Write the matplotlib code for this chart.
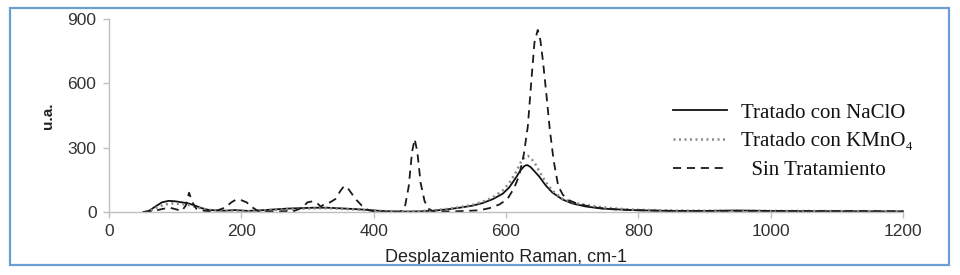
import matplotlib
matplotlib.use("Agg")
import matplotlib.pyplot as plt
from matplotlib.patches import Rectangle

# Raman spectra (x in cm-1, y in u.a.)
naclo_x = [52, 60, 70, 80, 90, 100, 110, 120, 130, 140, 150, 160, 175, 190, 210, 230, 250,
           270, 290, 310, 330, 350, 370, 390, 410, 430, 450, 470, 490, 510, 530, 550, 565,
           580, 595, 605, 615, 622, 628, 632, 637, 643, 650, 660, 670, 685, 700, 720, 745,
           770, 800, 850, 900, 950, 1000, 1050, 1100, 1150, 1200]
naclo_y = [0, 5, 25, 45, 52, 50, 45, 40, 30, 18, 10, 8, 6, 9, 5, 8, 12,
           16, 18, 20, 20, 17, 14, 10, 5, 3, 2, 3, 6, 12, 20, 30, 42,
           60, 85, 115, 160, 195, 215, 219, 210, 190, 166, 124, 91, 59, 40, 26, 16,
           12, 8, 5, 5, 7, 5, 4, 4, 3, 3]

kmno4_x = [55, 65, 75, 85, 95, 105, 115, 125, 135, 150, 170, 190, 210, 230, 250, 270, 290,
           310, 330, 350, 370, 390, 410, 430, 450, 470, 490, 510, 530, 550, 565, 580, 595,
           605, 615, 622, 628, 633, 638, 645, 652, 660, 670, 685, 700, 720, 745, 770, 800,
           850, 900, 950, 1000, 1050, 1100, 1150, 1200]
kmno4_y = [0, 10, 25, 35, 40, 38, 35, 30, 20, 10, 6, 5, 4, 6, 10, 12, 15,
           17, 18, 15, 12, 8, 5, 3, 3, 4, 8, 14, 22, 34, 48, 68, 100,
           135, 185, 230, 255, 262, 250, 220, 181, 140, 100, 62, 45, 33, 22, 15, 10,
           7, 6, 6, 5, 5, 4, 4, 3]

sin_x = [52, 62, 72, 82, 92, 102, 110, 116, 121, 126, 132, 145, 160, 175, 185, 192, 200,
         208, 215, 225, 240, 260, 280, 292, 300, 308, 315, 320, 327, 334, 342, 349, 355,
         360, 367, 374, 382, 390, 400, 420, 440, 447, 453, 458, 462, 466, 471, 477, 483,
         490, 500, 520, 540, 560, 575, 590, 602, 612, 620, 627, 633, 638, 643, 648, 652,
         656, 661, 666, 672, 679, 686, 695, 705, 720, 740, 760, 790, 830, 880, 950, 1000,
         1050, 1100, 1150, 1200]
sin_y = [0, 2, 8, 15, 20, 12, 5, 30, 90, 45, 15, 5, 3, 20, 45, 58, 55,
         45, 25, 5, 2, 3, 5, 20, 45, 50, 40, 25, 40, 45, 60, 95, 120,
         115, 85, 56, 30, 12, 2, 0, 1, 20, 120, 280, 340, 280, 135, 50, 15,
         3, 2, 3, 5, 8, 18, 35, 60, 110, 170, 270, 400, 600, 790, 849, 800,
         700, 550, 390, 240, 120, 80, 55, 42, 30, 19, 13, 9, 6, 5, 5, 5,
         4, 4, 4, 3]

labels = ["Tratado con NaClO", "Tratado con KMnO\u2084", "  Sin Tratamiento"]
x_ticks = [0, 200, 400, 600, 800, 1000, 1200]
y_ticks = [0, 300, 600, 900]

GRID = "#bfbfbf"
TICK_TXT = "#333333"

fig = plt.figure(figsize=(9.6, 2.75), dpi=100)
ax = fig.add_axes([109 / 960, 63 / 275, 794 / 960, 193 / 275])

ax.plot(naclo_x, naclo_y, color="#111111", lw=1.3, clip_on=False, label=labels[0])
ax.plot(kmno4_x, kmno4_y, color="#8a8a8a", lw=1.8, linestyle=(0, (0.8, 1.4)),
        clip_on=False, label=labels[1])
ax.plot(sin_x, sin_y, color="#1a1a1a", lw=1.3, linestyle=(0, (4.5, 3.2)),
        clip_on=False, label=labels[2])

ax.set_xlim(0, 1200)
ax.set_ylim(0, 900)
ax.set_xticks(x_ticks)
ax.set_yticks(y_ticks)
for sp in ["top", "right"]:
    ax.spines[sp].set_visible(False)
for sp in ["left", "bottom"]:
    ax.spines[sp].set_color(GRID)
    ax.spines[sp].set_linewidth(1.0)
ax.tick_params(colors=GRID, length=4, width=1.0, labelcolor=TICK_TXT,
               labelsize=12.5, pad=5)
for t in ax.get_xticklabels() + ax.get_yticklabels():
    t.set_fontfamily("Liberation Sans")

ax.set_xlabel("Desplazamiento Raman, cm-1", fontsize=13, family="Liberation Sans",
              color="#222222", labelpad=7)
ax.set_ylabel("u.a.", fontsize=11, fontweight="bold", family="Liberation Sans",
              color="#222222", labelpad=9)

leg = ax.legend(loc="upper left", bbox_to_anchor=(0.71, 0.565), frameon=False,
                prop={"family": ["Liberation Serif", "DejaVu Serif"], "size": 15},
                handlelength=2.6, handletextpad=0.7, labelspacing=0.45, borderpad=0,
                borderaxespad=0)
for t in leg.get_texts():
    t.set_color("#111111")

# blue frame around the whole figure
fig.add_artist(Rectangle((10 / 960, 10 / 275), 939 / 960, 257 / 275,
                         transform=fig.transFigure, fill=False,
                         edgecolor="#6a9fd4", linewidth=1.6))

fig.savefig("out.png", dpi=100)
